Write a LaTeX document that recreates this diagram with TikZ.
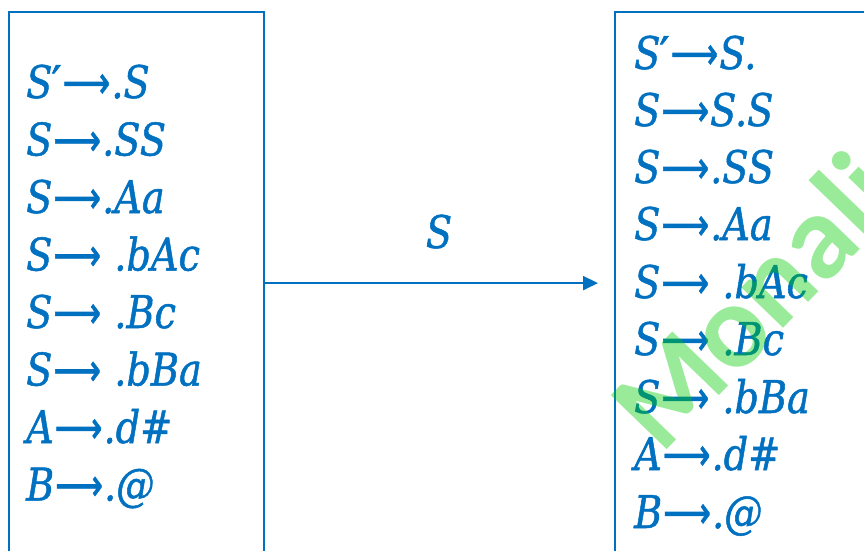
\documentclass[tikz,border=0pt]{standalone}
\usepackage{fontspec}
\newfontfamily\rulefont{DejaVu Serif}[FakeStretch=0.85,FakeBold=1.1]
\newfontfamily\arrowfont{DejaVu Sans}[FakeBold=1.4]
\newfontfamily\markfont{Carlito}
\usetikzlibrary{arrows.meta}
\definecolor{itemblue}{RGB}{0,112,192}
\definecolor{markgreen}{RGB}{0,204,0}
% long production arrow and prime
\newcommand\prodto{\kern1pt{\arrowfont\upshape\scalebox{0.74}[1]{⟶}}\kern1pt}
\newcommand\primed{{\arrowfont\upshape\kern-1pt′}}
\tikzset{
  itemset/.style={draw=itemblue, line width=2.2pt, minimum width=#1, minimum height=542pt,
    anchor=north west, inner sep=0pt},
  rule/.style={anchor=base west, inner sep=0pt, text=itemblue,
    font=\rulefont\fontsize{45}{54}\selectfont\itshape},
  gotoarrow/.style={draw=itemblue, line width=2pt,
    -{Triangle[length=15pt,width=14pt]}},
  watermark/.style={anchor=base west, inner sep=0pt, text=markgreen, text opacity=0.4,
    rotate=46, font=\markfont\bfseries\fontsize{120}{120}\selectfont}
}
\begin{document}
\begin{tikzpicture}[x=1pt,y=-1pt]
\clip (0,0) rectangle (864,550);
\fill[white] (0,0) rectangle (864,550);

% item set boxes
\node[itemset=255pt] (lbox) at (8,11) {};
\node[itemset=300pt] (rbox) at (614,11) {};

% closure items of the start state
\node[rule] (l1) at (26,98)    {S\primed\prodto.S};
\node[rule] (l2) at (26,155.5) {S\prodto.SS};
\node[rule] (l3) at (26,213)   {S\prodto.Aa};
\node[rule] (l4) at (26,270.5) {S\prodto\ .bAc};
\node[rule] (l5) at (26,328)   {S\prodto\ .Bc};
\node[rule] (l6) at (26,385.5) {S\prodto\ .bBa};
\node[rule] (l7) at (26,443)   {A\prodto.d\#};
\node[rule] (l8) at (26,500.5) {B\prodto.@};

% items after the transition on S
\node[rule] (r1) at (634,69)  {S\primed\prodto S.};
\node[rule] (r2) at (634,126) {S\prodto S.S};
\node[rule] (r3) at (634,183) {S\prodto.SS};
\node[rule] (r4) at (634,240) {S\prodto.Aa};
\node[rule] (r5) at (634,298) {S\prodto\ .bAc};
\node[rule] (r6) at (634,355) {S\prodto\ .Bc};
\node[rule] (r7) at (634,413) {S\prodto\ .bBa};
\node[rule] (r8) at (634,470) {A\prodto.d\#};
\node[rule] (r9) at (634,528) {B\prodto.@};

% transition
\draw[gotoarrow, shorten >=16pt] (lbox.east) -- (rbox.west);
\node[rule, anchor=base] (lab) at (439,248) {S};

% watermark
\node[watermark] (wm) at (661,456) {Monali};
\end{tikzpicture}
\end{document}
